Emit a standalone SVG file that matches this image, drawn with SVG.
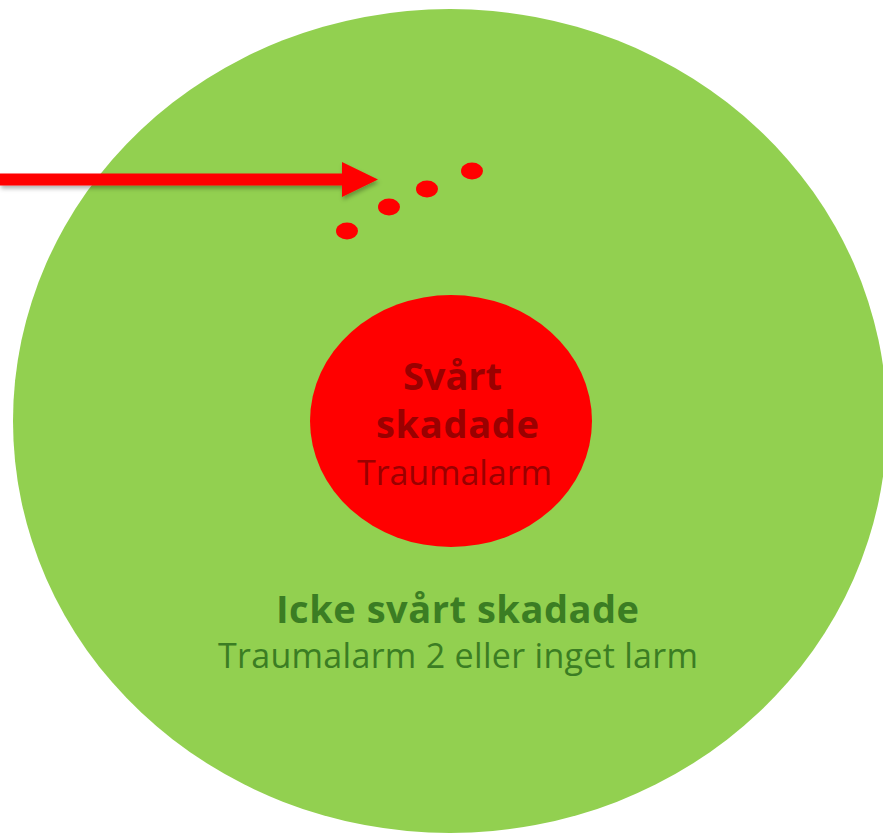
<svg xmlns="http://www.w3.org/2000/svg" width="883" height="833" viewBox="0 0 883 833">
<style>
.bold{font-family:"Open Sans","Liberation Sans",sans-serif;font-weight:700;}
.reg{font-family:"Open Sans","Liberation Sans",sans-serif;font-weight:400;}
.redtxt{fill:#9a0000;}
.greentxt{fill:#3b7d23;}
.dot{fill:#ff0000;}
</style>
<defs>
<filter id="sh" x="-10%" y="-50%" width="120%" height="200%">
<feDropShadow dx="1" dy="3" stdDeviation="2" flood-color="#000" flood-opacity="0.3"/>
</filter>
</defs>
<g id="outer">
<ellipse cx="450" cy="421" rx="437" ry="412" fill="#92d050"/>
<text class="bold greentxt" x="457.5" y="623" font-size="38" text-anchor="middle" textLength="363" lengthAdjust="spacing">Icke svårt skadade</text>
<text class="reg greentxt" x="458" y="668" font-size="34" text-anchor="middle" textLength="480" lengthAdjust="spacing">Traumalarm 2 eller inget larm</text>
</g>
<g id="inner">
<ellipse cx="451" cy="421" rx="141" ry="126" fill="#ff0000"/>
<text class="bold redtxt" x="452.5" y="390" font-size="38" text-anchor="middle" textLength="99" lengthAdjust="spacing">Svårt</text>
<text class="bold redtxt" x="457.5" y="438" font-size="38" text-anchor="middle" textLength="163" lengthAdjust="spacing">skadade</text>
<text class="reg redtxt" x="454.5" y="485" font-size="34" text-anchor="middle" textLength="195" lengthAdjust="spacing">Traumalarm</text>
</g>
<g id="dots">
<ellipse class="dot" cx="347" cy="231" rx="11" ry="8.5"/>
<ellipse class="dot" cx="389" cy="207" rx="11" ry="8.5"/>
<ellipse class="dot" cx="427" cy="189" rx="11" ry="8.5"/>
<ellipse class="dot" cx="472" cy="171" rx="11" ry="8.5"/>
</g>
<g id="connectors">
<path d="M0,173.5 H342 V162 L378,179.5 L342,197 V185.5 H0 Z" fill="#ff0000" filter="url(#sh)"/>
</g>
</svg>
